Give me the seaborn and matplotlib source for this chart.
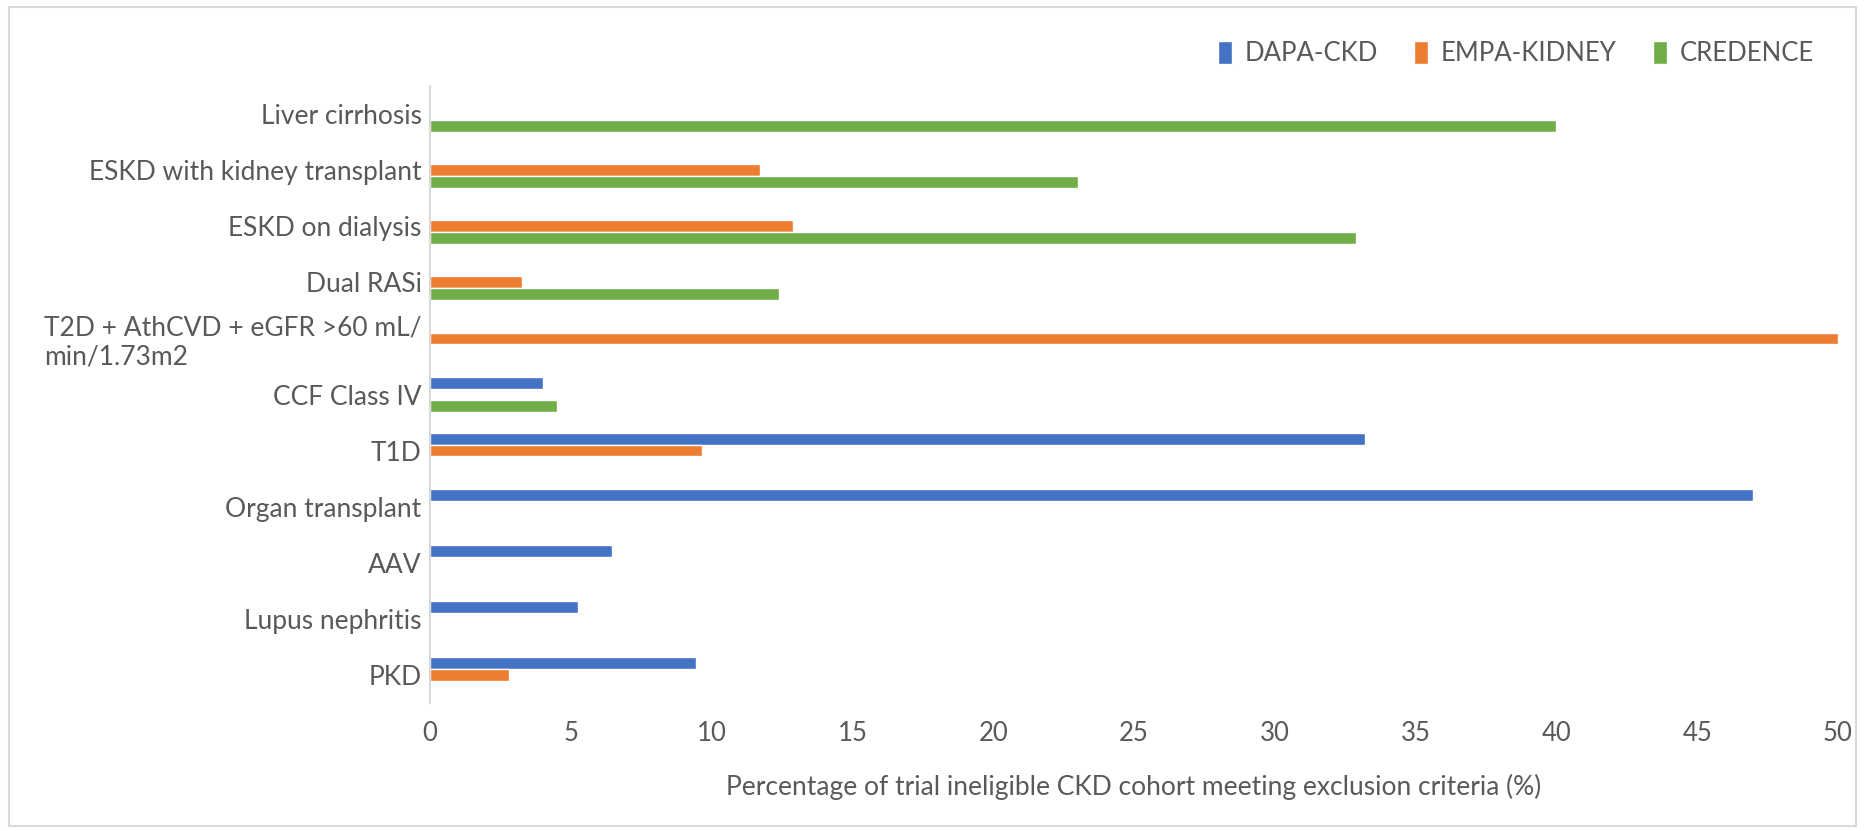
import numpy as np
import pandas as pd
import matplotlib
matplotlib.use("Agg")
import matplotlib.pyplot as plt
import seaborn as sns
from matplotlib.patches import Rectangle

# values
categories = [
    "Liver cirrhosis",
    "ESKD with kidney transplant",
    "ESKD on dialysis",
    "Dual RASi",
    "T2D + AthCVD + eGFR >60 mL/\nmin/1.73m2",
    "CCF Class IV",
    "T1D",
    "Organ transplant",
    "AAV",
    "Lupus nephritis",
    "PKD",
]
trials = ["DAPA-CKD", "EMPA-KIDNEY", "CREDENCE"]
dapa_ckd = [np.nan, np.nan, np.nan, np.nan, np.nan, 4.0, 33.2, 47.0, 6.45, 5.25, 9.45]
empa_kidney = [np.nan, 11.7, 12.9, 3.25, 50.0, np.nan, 9.65, np.nan, np.nan, np.nan, 2.8]
credence = [40.0, 23.0, 32.9, 12.4, np.nan, 4.5, np.nan, np.nan, np.nan, np.nan, np.nan]
colors = ["#4472C4", "#ED7D31", "#70AD47"]

df = pd.DataFrame({"category": categories,
                   "DAPA-CKD": dapa_ckd,
                   "EMPA-KIDNEY": empa_kidney,
                   "CREDENCE": credence})
long = df.melt(id_vars="category", var_name="trial", value_name="pct").dropna()

sns.set_style("white")
plt.rcParams["font.family"] = ["Lato", "DejaVu Sans"]
text_col = "#595959"
fs = 18.5

fig = plt.figure(figsize=(18.65, 8.31), dpi=100)
ax = fig.add_axes([0.2306, 0.154, 0.7549, 0.7425])

sns.barplot(data=long, x="pct", y="category", hue="trial",
            order=categories, hue_order=trials, palette=colors,
            orient="h", width=0.625, gap=0, errorbar=None,
            saturation=1, ax=ax)

ax.set_xlim(0, 50)
ax.set_ylim(len(categories) - 0.5, -0.5)
ax.set_xticks(range(0, 51, 5))
ax.set_xlabel("Percentage of trial ineligible CKD cohort meeting exclusion criteria (%)",
              fontsize=19, color=text_col, labelpad=20)
ax.set_ylabel("")
ax.tick_params(axis="both", length=0, colors=text_col, labelsize=fs)
ax.tick_params(axis="y", labelsize=19, pad=6)
ax.tick_params(axis="x", pad=13)
for lab in ax.get_yticklabels():
    lab.set_multialignment("left")

for side in ["top", "right", "bottom"]:
    ax.spines[side].set_visible(False)
ax.spines["left"].set_color("#D9D9D9")
ax.spines["left"].set_linewidth(1.5)

handles, labels = ax.get_legend_handles_labels()
ax.get_legend().remove()
leg = fig.legend(handles, labels, ncol=3, loc="center right",
                 bbox_to_anchor=(0.985, 0.936), frameon=False,
                 fontsize=fs, handlelength=0.55, handleheight=1.0,
                 handletextpad=0.5, columnspacing=1.4)
for t in leg.get_texts():
    t.set_color(text_col)

# light outer frame like the chart area border
fig.add_artist(Rectangle((0.005, 0.006), 0.99, 0.985, transform=fig.transFigure,
                         fill=False, edgecolor="#D9D9D9", linewidth=1.5))

fig.savefig("out.png", dpi=100)
